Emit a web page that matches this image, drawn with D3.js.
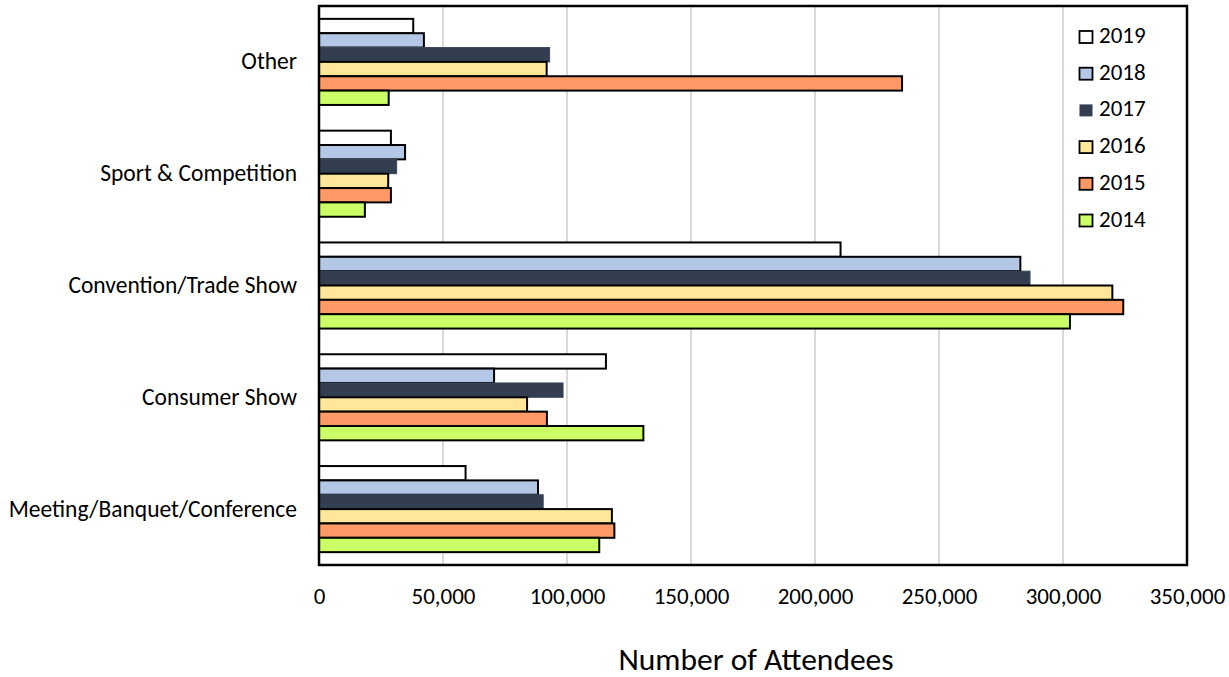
<!DOCTYPE html>
<html>
<head>
<meta charset="utf-8">
<script src="https://cdn.jsdelivr.net/npm/d3@7"></script>
<style>
  html, body { margin: 0; padding: 0; background: #fff; }
  svg { display: block; }
  text { font-family: Carlito, Calibri, "Open Sans", sans-serif; fill: #000; }
</style>
</head>
<body>
<svg id="chart" width="1229" height="677"></svg>
<script>
// Event categories, top to bottom
const categories = ["Other", "Sport & Competition", "Convention/Trade Show", "Consumer Show", "Meeting/Banquet/Conference"];
// Years, in the order bars are stacked within each category
const years = ["2019", "2018", "2017", "2016", "2015", "2014"];
// Attendees per year, one value per category (same order as categories)
const values2019 = [38000, 29000, 210300, 115700, 59100];
const values2018 = [42300, 34700, 282800, 70600, 88300];
const values2017 = [93000, 31300, 286700, 98400, 90400];
const values2016 = [91800, 27900, 319900, 83900, 118100];
const values2015 = [235100, 29000, 324300, 91900, 119100];
const values2014 = [28100, 18500, 302800, 130800, 113000];
const tickValues = [0, 50000, 100000, 150000, 200000, 250000, 300000, 350000];

const seriesValues = {
  "2019": values2019, "2018": values2018, "2017": values2017,
  "2016": values2016, "2015": values2015, "2014": values2014
};
const fills = {
  "2019": "#ffffff", "2018": "#b4c7e7", "2017": "#333f50",
  "2016": "#ffe699", "2015": "#ff9966", "2014": "#ccff66"
};
const strokes = {
  "2019": "#000", "2018": "#000", "2017": "#3b4759",
  "2016": "#000", "2015": "#000", "2014": "#000"
};
const FONT = "Carlito, Calibri, 'Open Sans', sans-serif";

const svg = d3.select("#chart");
const plot = { left: 319, right: 1187, top: 6, bottom: 565 };

const x = d3.scaleLinear().domain([0, 350000]).range([plot.left, plot.right]);
const y0 = d3.scaleBand().domain(categories).range([plot.top, plot.bottom])
  .paddingInner(0.23).paddingOuter(0.115);
const y1 = d3.scaleBand().domain(years).range([0, y0.bandwidth()]);

// vertical gridlines
svg.append("g").selectAll("line")
  .data(tickValues.slice(1, -1))
  .join("line")
  .attr("x1", d => x(d)).attr("x2", d => x(d))
  .attr("y1", plot.top).attr("y2", plot.bottom)
  .attr("stroke", "#d9d9d9").attr("stroke-width", 2);

// bars
const rows = [];
categories.forEach((c, i) => years.forEach(yr => rows.push({ cat: c, year: yr, value: seriesValues[yr][i] })));

svg.append("g").selectAll("rect")
  .data(rows)
  .join("rect")
  .attr("x", x(0))
  .attr("y", d => y0(d.cat) + y1(d.year))
  .attr("width", d => x(d.value) - x(0))
  .attr("height", y1.bandwidth())
  .attr("fill", d => fills[d.year])
  .attr("stroke", d => strokes[d.year])
  .attr("stroke-width", d => d.year === "2017" ? 1 : 2);

// plot frame
svg.append("rect")
  .attr("x", plot.left).attr("y", plot.top)
  .attr("width", plot.right - plot.left).attr("height", plot.bottom - plot.top)
  .attr("fill", "none").attr("stroke", "#000").attr("stroke-width", 2.5);

// x tick labels
const fmt = d3.format(",");
const xAxis = d3.axisBottom(x).tickValues(tickValues).tickFormat(d => fmt(d)).tickSize(0).tickPadding(0);
const gx = svg.append("g").attr("transform", `translate(0, 604)`).call(xAxis);
gx.select(".domain").remove();
gx.selectAll("text").attr("font-size", 23).attr("font-family", FONT).attr("fill", "#000").attr("dy", 0);

// category labels
const yAxis = d3.axisLeft(y0).tickSize(0).tickPadding(0);
const gy = svg.append("g").attr("transform", `translate(297, 0)`).call(yAxis);
gy.select(".domain").remove();
gy.selectAll("text").attr("font-size", 23.5).attr("font-family", FONT).attr("fill", "#000");

// axis title
svg.append("text")
  .attr("x", 756).attr("y", 670)
  .attr("text-anchor", "middle")
  .attr("font-size", 31.5)
  .text("Number of Attendees");

// legend
const legend = svg.append("g").attr("transform", "translate(1079, 43)");
const item = legend.selectAll("g").data(years).join("g")
  .attr("transform", (d, i) => `translate(0, ${i * 36.7})`);
item.append("rect")
  .attr("x", 0.5).attr("y", -12).attr("width", 13).attr("height", 12)
  .attr("fill", d => fills[d])
  .attr("stroke", d => d === "2017" ? "none" : "#000")
  .attr("stroke-width", 1.8);
item.append("text")
  .attr("x", 20).attr("y", 0)
  .attr("font-size", 23)
  .text(d => d);
</script>
</body>
</html>
